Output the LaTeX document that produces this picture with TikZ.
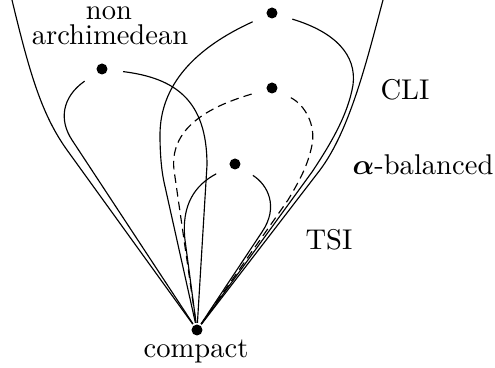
\documentclass[tikz,border=0pt]{standalone}
\begin{document}
\begin{tikzpicture}[x=0.35pt,y=-0.35pt,
  dot/.style={circle,fill,inner sep=0pt,minimum size=3.85pt,outer sep=0.6pt},
  lnk/.style={shorten <=4.9pt},
  dashedlnk/.style={lnk,dash pattern=on 3pt off 1.8pt},
  lbl/.style={anchor=base,inner sep=0pt}]
\useasboundingbox (0,0) rectangle (495,368);
% dots
\node[dot] (top) at (272,13) {};
\node[dot] (na) at (102,69) {};
\node[dot] (mid) at (272,88) {};
\node[dot] (sm) at (235,164) {};
\node[dot] (compact) at (197,330) {};
\coordinate (tl) at (12,0);
\coordinate (tr) at (383,0);
% outer boundaries
\draw (tl) .. controls (30,75) and (42,115) .. (67,150) -- (compact);
\draw (tr) .. controls (367,60) and (350,130) .. (320,170) -- (compact);
% non archimedean loop
\draw[lnk] (na) .. controls (62,97) and (58.8,120) .. (72,140) -- (compact);
\draw[lnk] (na) .. controls (175,78) and (207,100) .. (207,165) -- (compact);
% top loop
\draw[lnk] (top) .. controls (195,48) and (160,85) .. (160,135) .. controls (160,150) and (161,168) .. (164,182) -- (compact);
\draw[lnk] (top) .. controls (335,32) and (357,55) .. (353,85) .. controls (348,115) and (330,145) .. (312,172) -- (compact);
% dashed loop
\draw[dashedlnk] (mid) .. controls (215,105) and (169,125) .. (174,170) -- (compact);
\draw[dashedlnk] (mid) .. controls (305,105) and (316,125) .. (312,145) .. controls (308,165) and (300,180) .. (288,200) -- (compact);
% small loop
\draw[lnk] (sm) .. controls (195,185) and (181,205) .. (185,240) -- (compact);
\draw[lnk] (sm) .. controls (268,185) and (279,207) .. (262,232) -- (compact);
% labels
\node[lbl] (non) at (109,20) {non};
\node[lbl] (arch) at (110,45) {archimedean};
\node[lbl] (cli) at (405,100) {CLI};
\node[lbl] (bal) at (423,175) {{\boldmath$\alpha$}-balanced};
\node[lbl] (tsi) at (329,250) {TSI};
\node[lbl] (cmp) at (196,358) {compact};
\end{tikzpicture}
\end{document}
